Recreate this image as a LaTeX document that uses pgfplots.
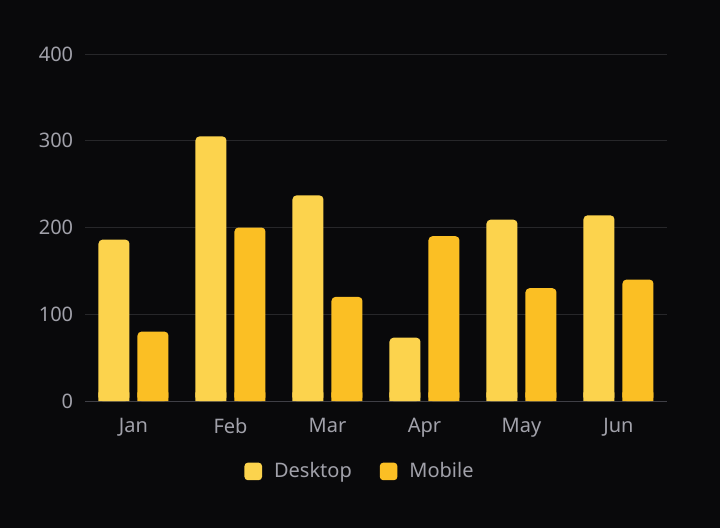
\documentclass[border=0pt]{standalone}
\usepackage{pgfplots}
\pgfplotsset{compat=1.18}
\usepackage{fontspec}
\setmainfont{Noto Sans}

\definecolor{bg}{HTML}{09090B}
\definecolor{gridc}{HTML}{27272A}
\definecolor{axisc}{HTML}{3F3F46}
\definecolor{textc}{HTML}{A1A1AA}
\definecolor{desk}{HTML}{FCD34D}
\definecolor{mob}{HTML}{FBBF24}

\begin{document}
\fontsize{20}{24}\selectfont
\begin{tikzpicture}
\fill[bg] (0,0) rectangle (720pt,528pt);
\begin{axis}[
    at={(85pt,127pt)}, anchor=south west,
    scale only axis, width=582pt, height=347pt,
    ybar, bar width=31pt,
    xmin=-0.5, xmax=5.5, ymin=0, ymax=400,
    xtick={0,1,2,3,4,5},
    xticklabels={Jan,Feb,Mar,Apr,May,Jun},
    ytick={0,100,200,300,400},
    axis lines*=left,
    y axis line style={draw=none},
    x axis line style={axisc, line width=1pt},
    major tick length=0pt,
    ymajorgrids, grid style={gridc, line width=1pt},
    tick label style={text=textc, font=\fontsize{20}{24}\selectfont},
    yticklabel style={xshift=-5pt},
    xticklabel style={yshift=-10pt},
    /pgf/number format/assume math mode=true,
    legend columns=2,
    legend style={at={(0.4725,-0.203)}, anchor=center, draw=none, fill=none,
        text=textc, font=\fontsize{20}{24}\selectfont,
        /tikz/every odd column/.append style={column sep=10pt},
        /tikz/every even column/.append style={column sep=26pt}},
    legend image code/.code={
        \path[#1, rounded corners=3.5pt] (0pt,-8.8pt) rectangle (17.6pt,8.8pt);
    },
]
\addplot[fill=desk, draw=none, rounded corners=4pt, bar shift=-19.5pt] coordinates {
    (0,186) (1,305) (2,237) (3,73) (4,209) (5,214)
};
\addplot[fill=mob, draw=none, rounded corners=4pt, bar shift=19.5pt] coordinates {
    (0,80) (1,200) (2,120) (3,190) (4,130) (5,140)
};
% square feet under the rounded bars
\addplot[forget plot, fill=desk, draw=none, bar shift=-19.5pt] coordinates {
    (0,10) (1,10) (2,10) (3,10) (4,10) (5,10)
};
\addplot[forget plot, fill=mob, draw=none, bar shift=19.5pt] coordinates {
    (0,10) (1,10) (2,10) (3,10) (4,10) (5,10)
};
\legend{Desktop, Mobile}
\end{axis}
\end{tikzpicture}
\end{document}
